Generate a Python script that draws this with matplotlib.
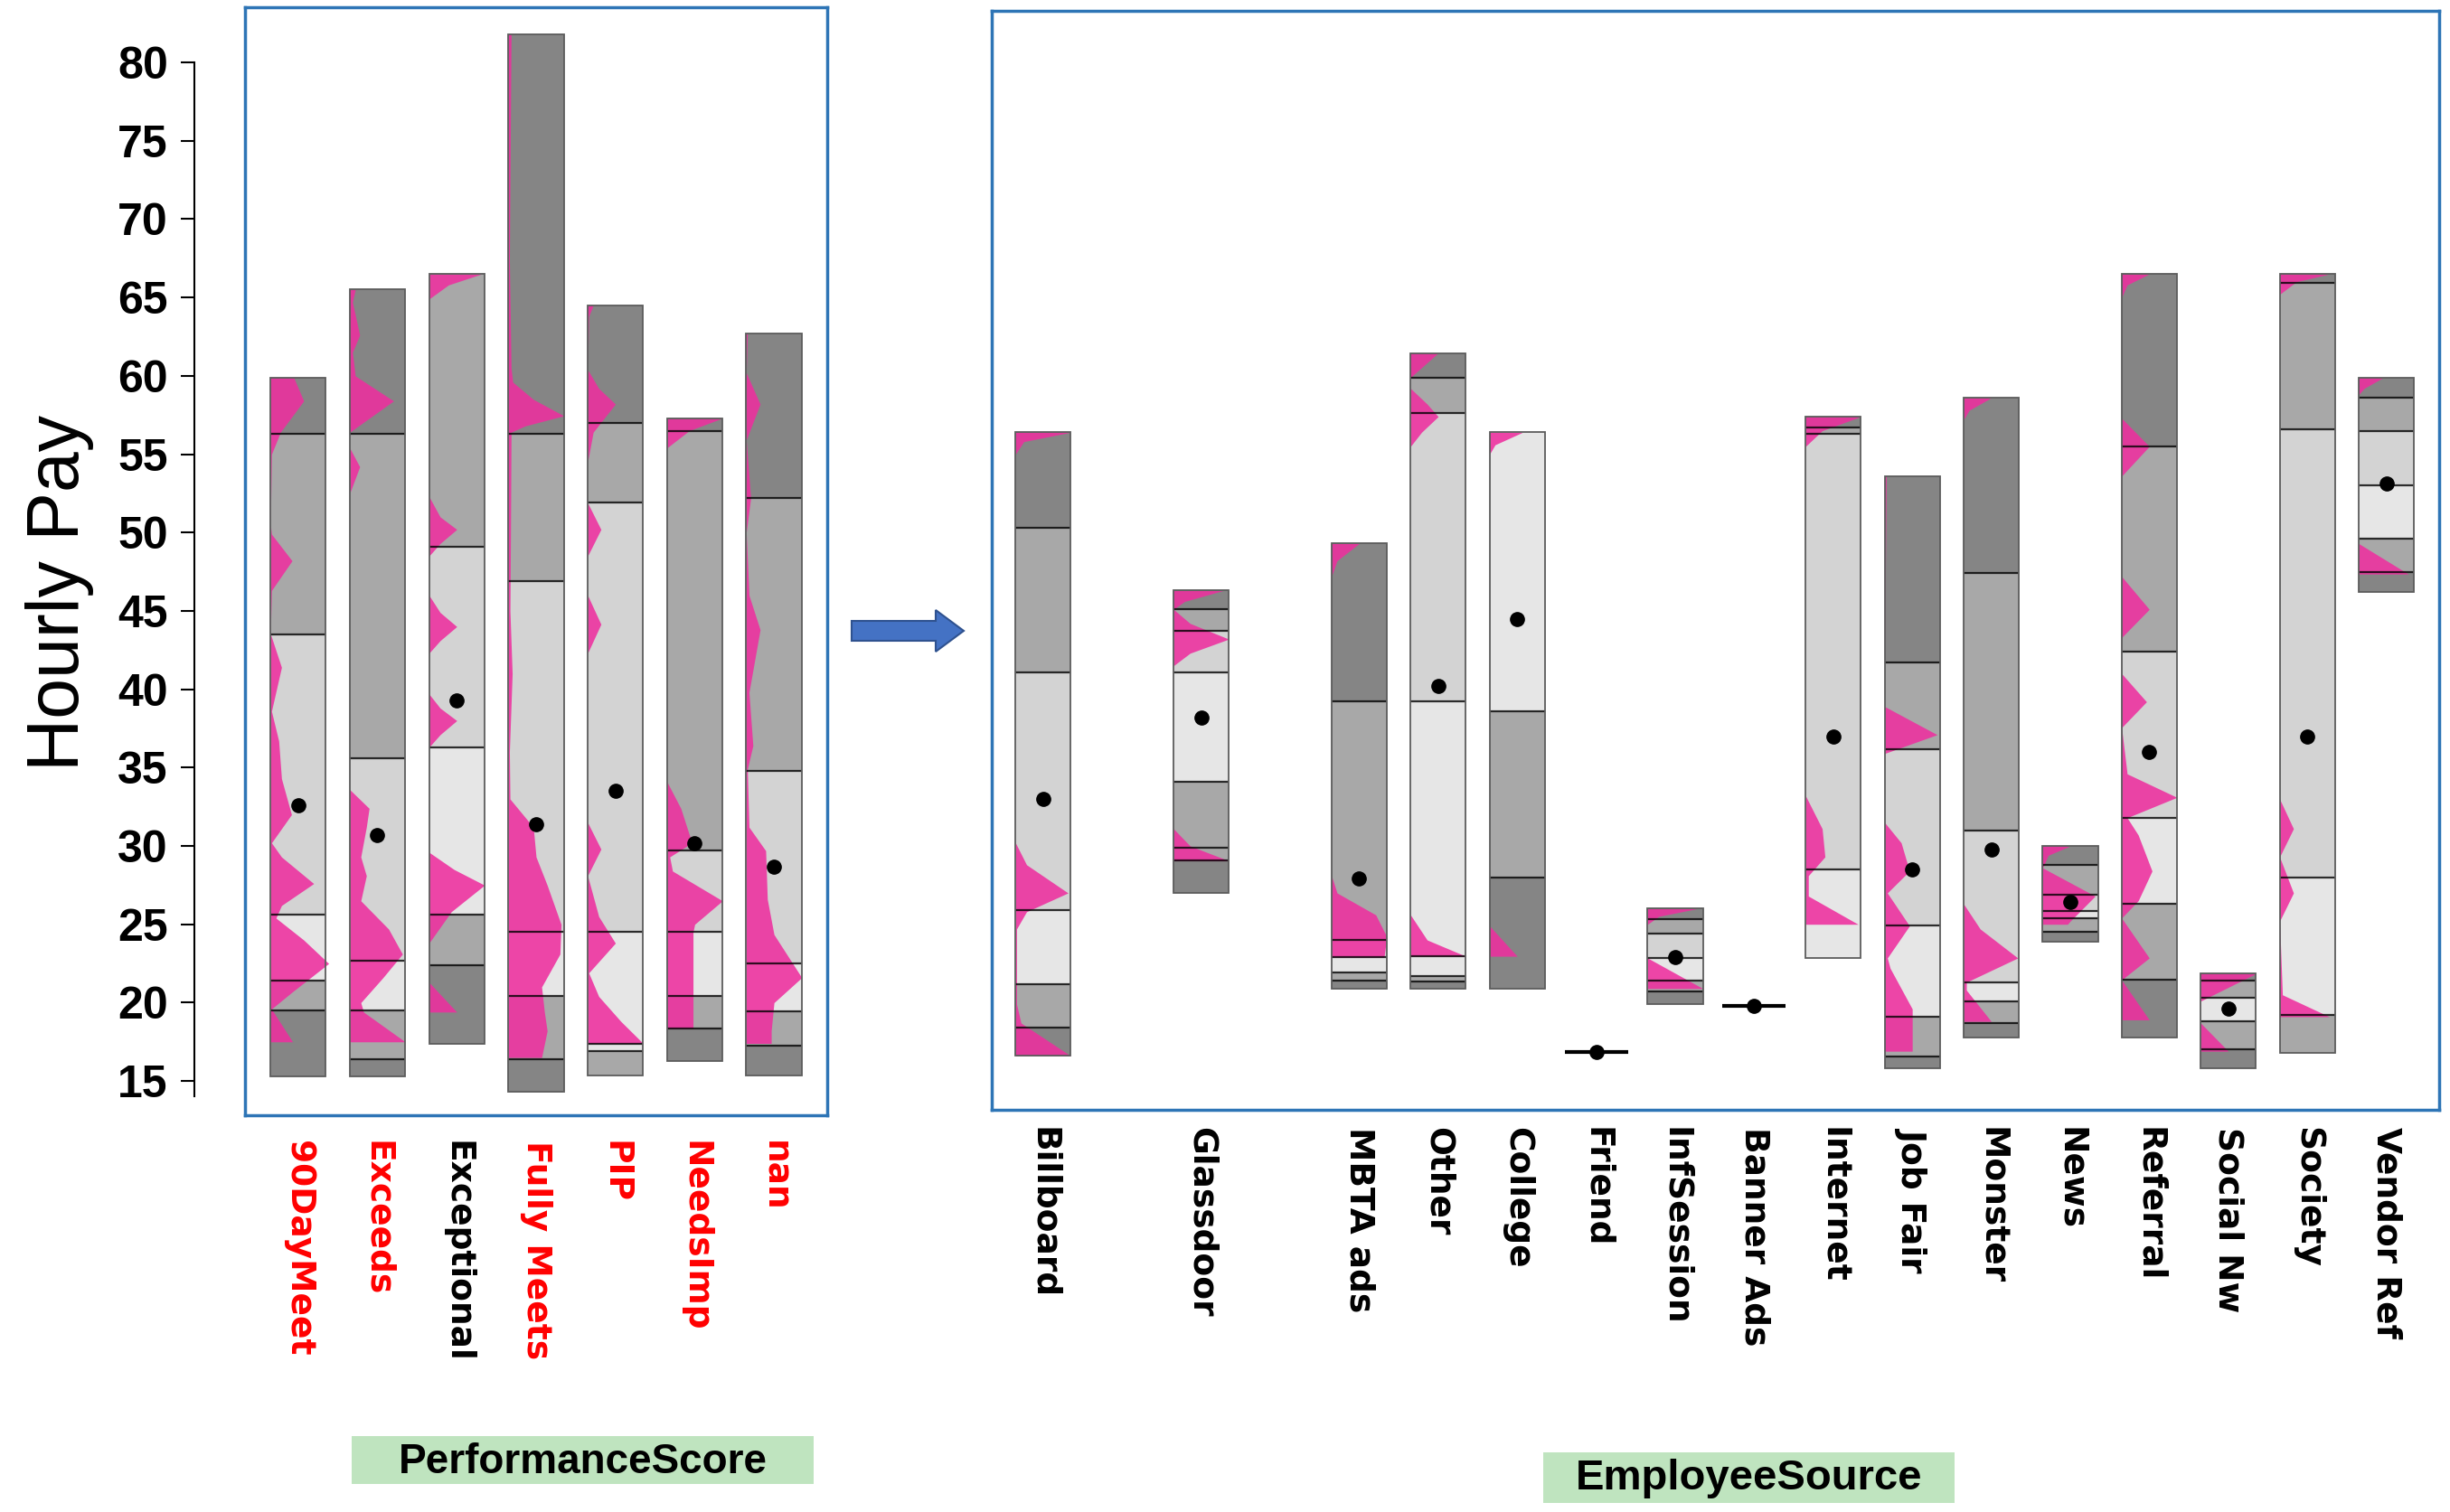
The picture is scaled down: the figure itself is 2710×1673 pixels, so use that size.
import matplotlib
import matplotlib.pyplot as plt
from matplotlib.patches import Rectangle, FancyArrow

matplotlib.use('agg')

# ---- PerformanceScore panel ----
perf_names = ['90DayMeet', 'Exceeds', 'Exceptional', 'Fully Meets', 'PIP', 'NeedsImp', 'nan']
perf_flagged = ['90DayMeet', 'Exceeds', 'Fully Meets', 'PIP', 'NeedsImp', 'nan']
perf_edges = [
    [15.3, 19.5, 21.4, 25.6, 43.5, 56.3, 59.9],
    [15.3, 16.4, 19.5, 22.7, 35.6, 56.3, 65.5],
    [17.4, 22.4, 25.6, 36.3, 49.1, 66.5],
    [14.3, 16.4, 20.4, 24.5, 46.9, 56.3, 81.8],
    [15.35, 16.9, 17.4, 24.5, 51.9, 57.0, 64.5],
    [16.3, 18.35, 20.4, 24.5, 29.7, 56.5, 57.3],
    [15.35, 17.25, 19.45, 22.5, 34.8, 52.2, 62.7],
]
perf_shades = [
    [3, 2, 0, 1, 2, 3],
    [3, 2, 0, 1, 2, 3],
    [3, 2, 0, 1, 2],
    [3, 2, 0, 1, 2, 3],
    [2, 0, 0, 1, 2, 3],
    [3, 2, 0, 1, 2, 3],
    [3, 2, 0, 1, 2, 3],
]
perf_means = [32.6, 30.7, 39.3, 31.4, 33.5, 30.2, 28.7]
perf_density = [
    [(59.9, 0.42), (58.4, 0.6), (56.4, 0.18), (55.0, 0.02), (50.5, 0.0), (49.9, 0.02), (48.2, 0.39),
     (46.3, 0.02), (43.55, 0.0), (41.4, 0.2), (38.6, 0.02), (36.7, 0.15), (34.3, 0.2), (32.0, 0.38),
     (30.2, 0.02), (29.3, 0.2), (27.6, 0.78), (26.2, 0.2), (25.4, 0.1), (24.0, 0.6), (22.5, 1.05),
     (20.7, 0.4), (19.6, 0.02), (17.5, 0.4)],
    [(65.5, 0.1), (64.7, 0.05), (62.6, 0.18), (61.5, 0.05), (60.0, 0.1), (58.4, 0.79), (56.4, 0.0),
     (55.4, 0.0), (54.2, 0.18), (52.5, 0.0), (33.6, 0.0), (32.4, 0.35), (31.2, 0.3), (29.3, 0.2),
     (28.1, 0.3), (26.5, 0.2), (24.7, 0.7), (23.1, 0.95), (21.6, 0.6), (20.0, 0.2), (19.4, 0.25),
     (17.5, 1.0)],
    [(66.5, 0.95), (65.8, 0.35), (64.9, 0.0), (52.3, 0.0), (51.0, 0.2), (50.2, 0.5), (49.3, 0.2),
     (48.5, 0.0), (46.0, 0.0), (44.9, 0.2), (44.0, 0.5), (43.1, 0.2), (42.3, 0.0), (39.7, 0.0),
     (38.8, 0.2), (38.0, 0.5), (37.1, 0.2), (36.3, 0.0), (29.6, 0.0), (28.5, 0.45), (27.5, 1.0),
     (25.8, 0.4), (23.8, 0.0), (21.3, 0.0), (19.4, 0.5)],
    [(81.8, 0.05), (67.4, 0.02), (60.5, 0.05), (59.6, 0.08), (58.5, 0.45), (57.45, 1.0), (56.8, 0.3),
     (56.4, 0.05), (50.0, 0.04), (45.0, 0.03), (41.0, 0.07), (36.0, 0.02), (33.0, 0.03), (31.2, 0.45),
     (29.3, 0.5), (27.5, 0.7), (25.0, 0.95), (23.1, 0.93), (21.0, 0.6), (19.4, 0.65), (18.2, 0.7),
     (16.5, 0.6)],
    [(64.5, 0.1), (63.8, 0.02), (60.4, 0.0), (59.2, 0.2), (58.2, 0.5), (56.4, 0.1), (54.5, 0.0),
     (51.9, 0.0), (50.2, 0.24), (48.5, 0.0), (46.0, 0.0), (44.15, 0.24), (42.3, 0.0), (31.5, 0.0),
     (29.8, 0.24), (28.1, 0.0), (25.5, 0.2), (23.8, 0.5), (21.9, 0.02), (20.4, 0.2), (18.8, 0.6),
     (17.4, 1.0)],
    [(57.3, 1.0), (56.5, 0.4), (55.4, 0.0), (34.1, 0.0), (32.4, 0.25), (30.2, 0.45), (29.3, 0.05),
     (28.4, 0.1), (26.5, 1.0), (25.0, 0.5), (24.5, 0.47), (18.35, 0.47)],
    [(62.7, 0.02), (60.2, 0.0), (58.2, 0.25), (55.9, 0.0), (52.2, 0.08), (50.0, 0.0), (46.0, 0.05),
     (43.8, 0.25), (39.8, 0.05), (36.4, 0.12), (34.9, 0.02), (31.2, 0.05), (29.7, 0.35), (26.6, 0.38),
     (24.35, 0.5), (21.6, 1.0), (20.0, 0.5), (18.2, 0.45), (17.4, 0.45)],
]

# ---- EmployeeSource panel ----
source_names = ['Billboard', 'Glassdoor', 'MBTA ads', 'Other', 'College', 'Friend', 'InfSession',
                'Banner Ads', 'Internet', 'Job Fair', 'Monster', 'News', 'Referral', 'Social Nw',
                'Society', 'Vendor Ref']
source_slots = [0, 2, 4, 5, 6, 7, 8, 9, 10, 11, 12, 13, 14, 15, 16, 17]
source_edges = [
    [16.6, 18.4, 21.2, 25.9, 41.1, 50.3, 56.4],
    [27.0, 29.05, 29.9, 34.1, 41.1, 43.7, 45.1, 46.3],
    [20.9, 21.4, 21.9, 22.9, 24.0, 39.2, 49.3],
    [20.9, 21.35, 21.7, 22.96, 39.2, 57.6, 59.9, 61.46],
    [20.9, 28.0, 38.6, 56.4],
    [16.85],
    [19.9, 20.7, 21.4, 22.85, 24.4, 25.3, 26.0],
    [19.8],
    [22.85, 28.5, 56.3, 56.7, 57.4],
    [15.8, 16.55, 19.1, 24.9, 36.2, 41.7, 53.6],
    [17.8, 18.7, 20.1, 21.3, 31.0, 47.4, 58.6],
    [23.9, 24.5, 25.4, 25.85, 26.9, 28.8, 30.0],
    [17.8, 21.45, 26.3, 31.8, 42.4, 55.5, 66.5],
    [15.8, 17.0, 18.8, 20.3, 21.4, 21.85],
    [16.8, 19.2, 28.0, 56.6, 65.95, 66.5],
    [46.2, 47.5, 49.6, 53.0, 56.5, 58.6, 59.9],
]
source_shades = [
    [3, 2, 0, 1, 2, 3],
    [3, 2, 2, 0, 1, 2, 3],
    [3, 2, 0, 1, 2, 3],
    [3, 2, 0, 0, 1, 2, 3],
    [3, 2, 0],
    [],
    [3, 2, 0, 1, 2, 3],
    [],
    [0, 1, 2, 3],
    [3, 2, 0, 1, 2, 3],
    [3, 2, 0, 1, 2, 3],
    [3, 2, 0, 1, 2, 3],
    [3, 2, 0, 1, 2, 3],
    [3, 2, 0, 2, 3],
    [2, 0, 1, 2, 3],
    [3, 2, 0, 1, 2, 3],
]
source_means = [33.0, 38.2, 27.9, 40.2, 44.5, 16.85, 22.9, 19.8, 37.0, 28.5, 29.75, 26.4, 36.0,
                19.6, 37.0, 53.1]
source_density = [
    [(56.4, 1.0), (55.8, 0.15), (55.0, 0.0), (30.2, 0.0), (28.8, 0.2), (27.0, 0.95), (25.8, 0.2),
     (24.7, 0.02), (19.9, 0.02), (18.7, 0.1), (16.6, 1.0)],
    [(46.3, 0.9), (45.6, 0.2), (45.1, 0.0), (44.2, 0.3), (43.2, 1.0), (42.3, 0.3), (41.5, 0.0),
     (31.1, 0.0), (30.0, 0.3), (29.05, 1.0)],
    [(49.3, 0.5), (48.2, 0.1), (47.2, 0.0), (28.1, 0.0), (27.0, 0.1), (25.6, 0.8), (24.2, 1.0),
     (22.9, 0.95)],
    [(61.46, 0.5), (59.9, 0.0), (59.2, 0.0), (58.2, 0.3), (57.4, 0.5), (56.4, 0.2), (55.5, 0.0),
     (25.6, 0.0), (24.0, 0.3), (22.96, 1.0)],
    [(56.4, 0.6), (55.6, 0.1), (55.0, 0.0), (24.9, 0.0), (22.96, 0.5)],
    [],
    [(26.0, 0.9), (25.5, 0.2), (25.0, 0.0), (22.85, 0.0), (20.9, 1.0)],
    [],
    [(57.4, 1.0), (56.5, 0.3), (55.5, 0.0), (33.2, 0.0), (31.1, 0.3), (29.3, 0.35), (28.1, 0.05),
     (26.8, 0.05), (25.0, 0.95)],
    [(53.6, 0.03), (41.5, 0.0), (38.9, 0.0), (37.1, 0.95), (35.9, 0.0), (31.5, 0.0), (30.2, 0.3),
     (28.4, 0.45), (27.0, 0.05), (24.9, 0.45), (22.85, 0.05), (22.2, 0.1), (19.6, 0.5), (16.9, 0.5)],
    [(58.6, 0.5), (57.8, 0.1), (57.2, 0.0), (26.3, 0.0), (24.7, 0.3), (22.85, 0.98), (21.3, 0.05),
     (20.8, 0.05), (18.8, 0.5)],
    [(30.0, 0.5), (29.4, 0.1), (28.6, 0.0), (26.8, 0.95), (25.2, 0.5), (25.0, 0.45)],
    [(66.5, 0.5), (65.8, 0.1), (65.0, 0.0), (57.3, 0.0), (55.5, 0.5), (53.6, 0.0), (47.2, 0.0),
     (45.1, 0.5), (43.3, 0.0), (41.0, 0.0), (39.2, 0.45), (37.55, 0.0), (34.6, 0.1), (33.1, 1.0),
     (31.8, 0.1), (30.7, 0.3), (28.4, 0.55), (26.5, 0.3), (25.4, 0.0), (22.85, 0.5), (21.45, 0.0),
     (18.9, 0.5)],
    [(21.85, 1.0), (20.1, 0.0), (18.7, 0.0), (16.9, 0.5)],
    [(66.5, 0.9), (66.0, 0.3), (65.2, 0.0), (33.0, 0.0), (31.1, 0.25), (29.3, 0.0), (27.0, 0.25),
     (25.2, 0.0), (20.5, 0.05), (19.1, 0.9)],
    [(59.9, 0.45), (59.2, 0.1), (58.8, 0.0), (49.3, 0.0), (47.35, 0.9)],
]

pay_ticks = [15, 20, 25, 30, 35, 40, 45, 50, 55, 60, 65, 70, 75, 80]

SHADES = ['#e6e6e6', '#d3d3d3', '#a8a8a8', '#858585']
PINK = '#ee2f9f'
FRAME = '#2e75b6'
PLATE = '#bfe4bf'
BAR_W = 0.70


def draw_bars(ax, slots, edges_list, shades_list, means, density):
    for x, edges, shades, mean, prof in zip(slots, edges_list, shades_list, means, density):
        left = x - BAR_W / 2
        if len(edges) == 1:
            # a single observation: just a line with its mean
            ax.hlines(edges[0], x - 0.4, x + 0.4, colors='black', lw=3, zorder=3)
            ax.plot(x, mean, 'o', color='black', ms=11, zorder=5)
            continue
        for lo, hi, s in zip(edges[:-1], edges[1:], shades):
            ax.add_patch(Rectangle((left, lo), BAR_W, hi - lo, fc=SHADES[s], ec='none', zorder=1))
        if prof:
            ys = [p[0] for p in prof]
            xs = [left + p[1] * BAR_W for p in prof]
            ax.fill_betweenx(ys, left, xs, color=PINK, alpha=0.88, lw=0, zorder=2)
        ax.hlines(edges[1:-1], left, left + BAR_W, colors='black', lw=1.6, alpha=0.8, zorder=3)
        ax.add_patch(Rectangle((left, edges[0]), BAR_W, edges[-1] - edges[0], fill=False,
                               ec='#5c5c5c', lw=1.3, zorder=4))
        ax.plot(x, mean, 'o', color='black', ms=11, zorder=5)


def style_panel(ax, labels, label_colors, pad):
    ax.set_yticks([])
    ax.tick_params(axis='x', length=0, pad=pad)
    ax.set_xticklabels(labels, rotation=-90, fontsize=27, fontweight='bold', family='DejaVu Sans')
    for lbl, c in zip(ax.get_xticklabels(), label_colors):
        lbl.set_color(c)
    for sp in ax.spines.values():
        sp.set_color(FRAME)
        sp.set_linewidth(2.5)


fig = plt.figure(figsize=(27.1, 16.73), dpi=100)

ax_l = fig.add_axes([0.1000, 0.2624, 0.2376, 0.7328])
ax_r = fig.add_axes([0.4048, 0.2660, 0.5908, 0.7268])

draw_bars(ax_l, range(len(perf_names)), perf_edges, perf_shades, perf_means, perf_density)
ax_l.set_xlim(-0.67, len(perf_names) - 1 + 0.67)
ax_l.set_ylim(12.815, 83.52)
ax_l.set_xticks(range(len(perf_names)))
style_panel(ax_l, perf_names, ['red' if n in perf_flagged else 'black' for n in perf_names], 20)

draw_bars(ax_r, source_slots, source_edges, source_shades, source_means, source_density)
ax_r.set_xlim(-0.65, source_slots[-1] + 0.67)
ax_r.set_ylim(13.16, 83.29)
ax_r.set_xticks(source_slots)
style_panel(ax_r, source_names, ['black'] * len(source_names), 14)

# separate y axis to the left of the PerformanceScore frame
ax_y = fig.add_axes([0.0793, 0.2624, 0.0001, 0.7328])
ax_y.set_ylim(12.815, 83.52)
ax_y.set_yticks(pay_ticks)
ax_y.set_yticklabels([str(t) for t in pay_ticks], fontsize=36, fontweight='bold',
                     family='Liberation Sans')
ax_y.tick_params(axis='y', length=11, width=1.5, pad=10)
ax_y.set_xticks([])
for side in ['right', 'top', 'bottom']:
    ax_y.spines[side].set_visible(False)
ax_y.spines['left'].set_bounds(14.0, 80)
ax_y.spines['left'].set_linewidth(1.5)
ax_y.patch.set_visible(False)

fig.text(0.0244, 0.608, 'Hourly Pay', rotation=90, fontsize=58, family='Liberation Sans',
         ha='center', va='center')

# group titles on green plates
fig.patches.append(Rectangle((389 / 2710, 1 - 1642 / 1673), 511 / 2710, 53 / 1673,
                             transform=fig.transFigure, fc=PLATE, ec='none'))
fig.text(0.2378, 0.0257, 'PerformanceScore', fontsize=33, fontweight='bold',
         family='Liberation Sans', ha='center', va='baseline')
fig.patches.append(Rectangle((1707 / 2710, 1 - 1663 / 1673), 455 / 2710, 56 / 1673,
                             transform=fig.transFigure, fc=PLATE, ec='none'))
fig.text(0.7138, 0.0149, 'EmployeeSource', fontsize=34, fontweight='bold',
         family='Liberation Sans', ha='center', va='baseline')

fig.patches.append(FancyArrow(9.42, 9.75, 1.24, 0, width=0.22, head_width=0.46, head_length=0.31,
                              length_includes_head=True, fc='#4472c4', ec='#2f528f', lw=1.5,
                              transform=fig.dpi_scale_trans))

fig.savefig('out.png', dpi=100, facecolor='white')
